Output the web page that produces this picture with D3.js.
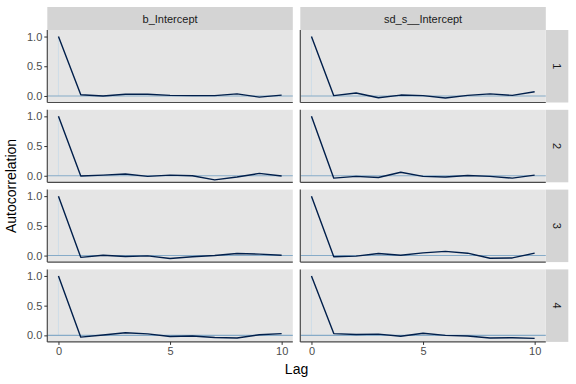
<!DOCTYPE html>
<html><head><meta charset="utf-8">
<script src="https://cdn.jsdelivr.net/npm/d3@7"></script>
<style>body{margin:0;background:#fff}svg{display:block;font-family:"Liberation Sans",Arial,sans-serif}</style>
</head><body><svg id="c" width="576" height="384"></svg>
<script>
const params = ["b_Intercept", "sd_s__Intercept"];
const chains = ["1", "2", "3", "4"];
const lags = [0,1,2,3,4,5,6,7,8,9,10];
const xTicks = [0, 5, 10];
const yTicks = [0.0, 0.5, 1.0];
const acf_b_Intercept = [
  [1, 0.02, 0.0, 0.03, 0.03, 0.01, 0.005, 0.005, 0.035, -0.02, 0.015],
  [1, -0.005, 0.01, 0.03, -0.01, 0.01, 0.0, -0.07, -0.02, 0.04, -0.005],
  [1, -0.03, 0.005, -0.015, -0.005, -0.05, -0.02, 0.0, 0.035, 0.025, 0.005],
  [1, -0.03, 0.005, 0.045, 0.025, -0.02, -0.01, -0.035, -0.045, 0.01, 0.03]
];
const acf_sd_s__Intercept = [
  [1, 0.005, 0.05, -0.03, 0.015, 0.005, -0.035, 0.01, 0.035, 0.01, 0.07],
  [1, -0.04, -0.01, -0.03, 0.06, -0.01, -0.02, 0.005, -0.01, -0.04, 0.01],
  [1, -0.02, -0.01, 0.035, 0.005, 0.045, 0.07, 0.04, -0.045, -0.04, 0.04],
  [1, 0.03, 0.015, 0.02, -0.015, 0.035, 0.0, -0.01, -0.045, -0.04, -0.05]
];
const seriesByParam = [acf_b_Intercept, acf_sd_s__Intercept];

const svg = d3.select("#c");
const colX = [47.3, 300.3], panelW = 245.5;
const rowY = [30, 109.8, 189.6, 269.4], panelH = 72.5;
const stripTop = 7, stripRightW = 22.5;

const x = d3.scaleLinear().domain([-0.5, 10.5]).range([0, panelW]);
const y = d3.scaleLinear().domain([-0.11, 1.11]).range([panelH, 0]);
const line = d3.line().x((d,i)=>x(lags[i])).y(d=>y(d));

params.forEach((p, c) => {
  svg.append("rect").attr("x", colX[c]).attr("y", stripTop).attr("width", panelW).attr("height", rowY[0]-stripTop).attr("fill", "#D4D4D4");
  svg.append("text").attr("x", colX[c]+panelW/2).attr("y", (stripTop+rowY[0])/2+4).attr("text-anchor","middle")
    .attr("font-size", 11).attr("fill", "#1A1A1A").text(p);
});

chains.forEach((ch, r) => {
  const sx = colX[1]+panelW;
  svg.append("rect").attr("x", sx).attr("y", rowY[r]).attr("width", stripRightW).attr("height", panelH).attr("fill", "#D4D4D4");
  svg.append("text").attr("transform", `translate(${sx+stripRightW/2-4},${rowY[r]+panelH/2}) rotate(90)`)
    .attr("text-anchor","middle").attr("font-size", 11).attr("fill", "#1A1A1A").text(ch);

  params.forEach((p, c) => {
    const g = svg.append("g").attr("transform", `translate(${colX[c]},${rowY[r]})`);
    g.append("rect").attr("width", panelW).attr("height", panelH).attr("fill", "#E5E5E5");
    g.append("line").attr("x1", x(0)).attr("x2", x(0)).attr("y1", y(0)).attr("y2", y(1))
      .attr("stroke", "#c6dae8").attr("stroke-width", 0.7);
    g.append("line").attr("x1", 0).attr("x2", panelW).attr("y1", y(0)).attr("y2", y(0))
      .attr("stroke", "#86abc8").attr("stroke-width", 1.1);
    g.append("path").attr("d", line(seriesByParam[c][r])).attr("fill", "none")
      .attr("stroke", "#011F4B").attr("stroke-width", 1.4).attr("stroke-linejoin","round");
    g.append("line").attr("x1", 0).attr("x2", 0).attr("y1", 0).attr("y2", panelH).attr("stroke", "#4a4a4a").attr("stroke-width", 1.2);
    g.append("line").attr("x1", 0).attr("x2", panelW).attr("y1", panelH).attr("y2", panelH).attr("stroke", "#4a4a4a").attr("stroke-width", 1.2);
    if (c === 0) {
      const ay = g.append("g").call(d3.axisLeft(y).tickValues(yTicks).tickFormat(d3.format(".1f")).tickSize(3).tickPadding(2));
      ay.select(".domain").remove();
      ay.selectAll("line").attr("stroke", "#333");
      ay.selectAll("text").attr("font-size", 11).attr("fill", "#4D4D4D").attr("font-family", "Liberation Sans, Arial, sans-serif");
    }
    if (r === chains.length-1) {
      const ax = g.append("g").attr("transform", `translate(0,${panelH})`)
        .call(d3.axisBottom(x).tickValues(xTicks).tickFormat(d3.format("d")).tickSize(3).tickPadding(2));
      ax.select(".domain").remove();
      ax.selectAll("line").attr("stroke", "#333");
      ax.selectAll("text").attr("font-size", 11).attr("fill", "#4D4D4D").attr("font-family", "Liberation Sans, Arial, sans-serif");
    }
  });
});

svg.append("text").attr("x", (colX[0]+colX[1]+panelW)/2).attr("y", 374).attr("text-anchor","middle")
  .attr("font-size", 14).attr("fill", "#000").text("Lag");
svg.append("text").attr("transform", `translate(16,${(rowY[0]+rowY[3]+panelH)/2}) rotate(-90)`).attr("text-anchor","middle")
  .attr("font-size", 14).attr("fill", "#000").text("Autocorrelation");
</script></body></html>
